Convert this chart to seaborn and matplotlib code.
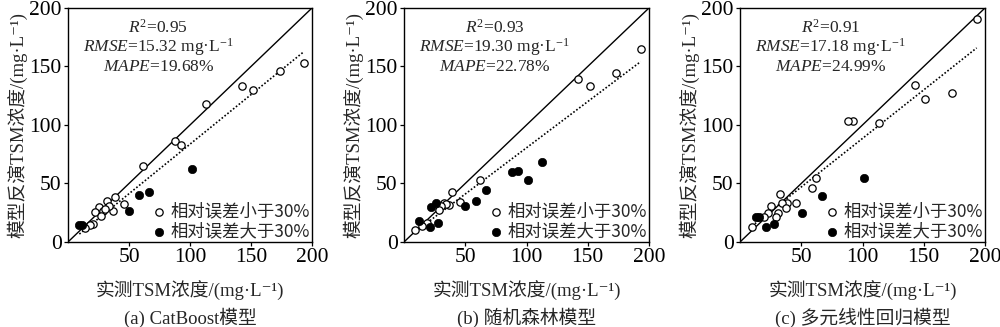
import matplotlib
matplotlib.use("Agg")
import matplotlib.pyplot as plt
import seaborn as sns
import numpy as np
import pandas as pd

# ---------------- data ----------------
a_obs_small = [193.4, 173.7, 151.8, 142.3, 113.0, 88.0, 92.5, 61.7, 45.5, 38.2, 32.0, 36.6, 33.5,
               25.1, 22.3, 28.9, 27.2, 30.7, 20.2, 18.3, 14.0]
a_pred_small = [153.3, 146.5, 130.0, 133.7, 118.0, 86.2, 82.5, 64.9, 32.1, 38.1, 34.7, 26.8, 30.8,
                29.6, 25.5, 26.5, 22.2, 28.0, 15.7, 14.4, 12.0]
a_obs_large = [9.3, 11.8, 50.0, 58.4, 66.7, 101.4]
a_pred_large = [14.8, 14.8, 26.2, 40.1, 42.7, 62.1]

b_obs_small = [193.2, 173.1, 151.8, 142.3, 62.2, 38.9, 46.0, 36.8, 32.4, 34.5, 30.5, 28.3,
               18.8, 14.7, 9.2]
b_pred_small = [165.3, 144.5, 133.4, 139.4, 53.3, 42.3, 33.8, 32.0, 33.5, 32.8, 30.8, 27.4,
                16.6, 13.8, 9.9]
b_obs_large = [112.9, 93.3, 87.9, 101.2, 66.9, 58.6, 50.2, 25.8, 22.4, 12.5, 21.1, 27.9]
b_pred_large = [68.3, 60.6, 59.7, 53.2, 44.4, 34.8, 30.7, 33.7, 29.8, 17.8, 12.8, 16.1]

c_obs_small = [193.2, 173.3, 151.3, 142.6, 113.5, 92.0, 87.9, 62.3, 58.8, 32.4, 46.0, 38.6,
               34.5, 37.8, 25.6, 31.0, 22.9, 29.1, 19.6, 9.8]
c_pred_small = [190.3, 127.7, 122.3, 134.3, 102.1, 103.6, 103.3, 54.8, 46.5, 41.0, 33.6, 33.6,
                33.0, 28.8, 30.8, 25.1, 24.5, 21.1, 21.1, 13.1]
c_obs_large = [101.5, 67.2, 50.6, 28.0, 21.3, 13.3, 15.3]
c_pred_large = [54.3, 39.5, 24.6, 15.1, 13.1, 21.2, 21.2]

fit_slopes = [0.847, 0.79, 0.83]
fit_intercepts = [-1.1, 1.5, 5.5]

r2_labels = ["0.95", "0.93", "0.91"]
rmse_labels = ["15.32", "19.30", "17.18"]
mape_labels = ["19.68%", "22.78%", "24.99%"]
captions = ["(a) CatBoost模型", "(b) 随机森林模型", "(c) 多元线性回归模型"]
legend_labels = ["相对误差小于30%", "相对误差大于30%"]
x_label = "实测TSM浓度/(mg·L⁻¹)"
y_label = "模型反演TSM浓度/(mg·L⁻¹)"
x_ticks = [50, 100, 150, 200]
y_ticks = [0, 50, 100, 150, 200]

# ---------------- style ----------------
sns.set_style("ticks")
plt.rcParams["font.family"] = ["Liberation Serif", "Noto Sans CJK SC", "DejaVu Sans"]
plt.rcParams["mathtext.fontset"] = "custom"
plt.rcParams["mathtext.rm"] = "Liberation Serif"
plt.rcParams["mathtext.it"] = "Liberation Serif:italic"
plt.rcParams["axes.edgecolor"] = "black"
plt.rcParams["axes.linewidth"] = 1.0

serif_cjk = ["Liberation Serif", "Noto Sans CJK SC", "DejaVu Sans"]
sans_cjk = ["Noto Sans CJK SC", "DejaVu Sans"]

fig = plt.figure(figsize=(10, 3.27), dpi=100)
lefts = [0.068, 0.404, 0.740]
widths = [0.244, 0.245, 0.245]

panels = [
    (a_obs_small, a_pred_small, a_obs_large, a_pred_large),
    (b_obs_small, b_pred_small, b_obs_large, b_pred_large),
    (c_obs_small, c_pred_small, c_obs_large, c_pred_large),
]

for i, (xs, ys, xl, yl) in enumerate(panels):
    ax = fig.add_axes([lefts[i], 0.26, widths[i], 0.7156])
    df_s = pd.DataFrame({"obs": xs, "pred": ys})
    df_l = pd.DataFrame({"obs": xl, "pred": yl})

    # 1:1 line
    ax.plot([0, 200], [0, 200], color="black", lw=1.0, zorder=1)
    # fit line
    allx = np.array(xs + xl)
    fx = np.array([allx.min(), allx.max()])
    fy = fit_slopes[i] * fx + fit_intercepts[i]
    sns.lineplot(x=fx, y=fy, ax=ax, color="black", lw=1.2, linestyle=(0, (1, 1.2)),
                 zorder=1, legend=False)

    sns.scatterplot(data=df_s, x="obs", y="pred", ax=ax, s=28, facecolor="white",
                    edgecolor="black", linewidth=0.9, label=legend_labels[0], zorder=3)
    sns.scatterplot(data=df_l, x="obs", y="pred", ax=ax, s=36, color="black",
                    edgecolor="black", linewidth=0.5, label=legend_labels[1], zorder=3)

    ax.set_xlim(0, 200)
    ax.set_ylim(0, 200)
    ax.set_xticks(x_ticks)
    ax.set_yticks(y_ticks)
    ax.tick_params(direction="out", length=3, width=0.9, labelsize=15.5, colors="black",
                   pad=1.5)
    for lab in ax.get_xticklabels() + ax.get_yticklabels():
        lab.set_fontfamily("Liberation Serif")
    for sp in ax.spines.values():
        sp.set_visible(True)
        sp.set_color("black")
        sp.set_linewidth(1.0)

    ax.set_xlabel(x_label, fontsize=13.5, family=serif_cjk, labelpad=10)
    ax.set_ylabel(y_label, fontsize=13.5, family=serif_cjk, labelpad=1)

    ax.text(0.37, 0.915, r"$R^2$=" + r2_labels[i], transform=ax.transAxes, ha="center",
            va="center", fontsize=12.5, family="Liberation Serif")
    ax.text(0.37, 0.833, r"$RMSE$=" + rmse_labels[i] + r" mg·L$^{-1}$", transform=ax.transAxes,
            ha="center", va="center", fontsize=12.5, family="Liberation Serif")
    ax.text(0.37, 0.748, r"$MAPE$=" + mape_labels[i], transform=ax.transAxes, ha="center",
            va="center", fontsize=12.5, family="Liberation Serif")

    leg = ax.legend(loc="lower right", bbox_to_anchor=(1.0, 0.0), frameon=False,
                    prop={"family": sans_cjk, "size": 12.5}, handletextpad=0.1,
                    borderaxespad=0.0, labelspacing=0.12, handlelength=1.2,
                    borderpad=0.1)

    ax.text(0.5, -0.325, captions[i], transform=ax.transAxes, ha="center", va="center",
            fontsize=13.5, family=serif_cjk)

fig.savefig("out.png", dpi=100)
